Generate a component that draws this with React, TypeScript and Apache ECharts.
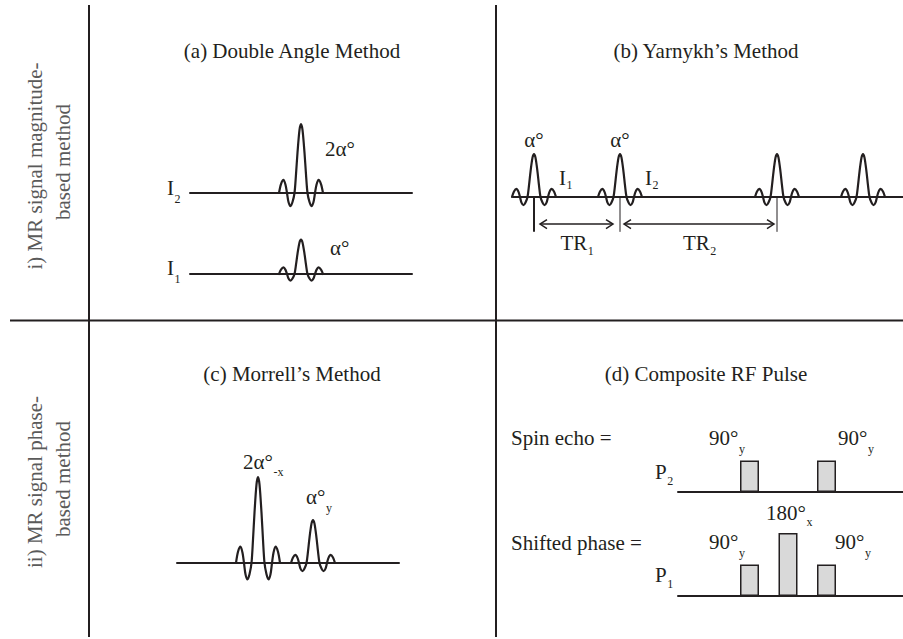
import React, { useEffect, useRef } from "react";
import * as echarts from "echarts";

// ---------- data ----------
const panelTitles = [
  "(a) Double Angle Method",
  "(b) Yarnykh\u2019s Method",
  "(c) Morrell\u2019s Method",
  "(d) Composite RF Pulse",
];
const rowTitlesTop = ["i) MR signal magnitude-", "based method"];
const rowTitlesBottom = ["ii) MR signal phase-", "based method"];

// sinc-like RF pulse outline: [time offset, fraction of peak amplitude]
const pulseShape: [number, number][] = [
  [-22, 0], [-20, 0.13], [-17.5, 0.19], [-15.5, 0.12], [-14, 0],
  [-12.5, -0.13], [-10.5, -0.19], [-8.5, -0.13], [-6.5, 0],
  [-5, 0.27], [-3.5, 0.585], [-1.5, 0.915], [0, 1],
  [1.5, 0.915], [3.5, 0.585], [5, 0.27], [6.5, 0],
  [8.5, -0.13], [10.5, -0.19], [12.5, -0.13], [14, 0],
  [15.5, 0.12], [17.5, 0.19], [20, 0.13], [22, 0],
];

// (a) Double angle: I2 acquired with 2α, I1 with α (amplitude in units of α)
const doubleAngleAmps = [2, 1];
// (b) Yarnykh: pulse times (TR1 = 86, TR2 = 157)
const TR1 = 86;
const TR2 = 157;
const yarnykhTimes = [0, TR1, TR1 + TR2, TR1 + TR2 + TR1];
const yarnykhAmps = [1, 1, 1, 1];
// (c) Morrell: 2α(-x) followed by α(y)
const morrellTimes = [0, 55];
const morrellAmps = [2, 1];
// (d) Composite RF pulse: flip angles (deg) at pulse slots
const spinEchoSlots = [0, 2];
const spinEchoAngles = [90, 90];
const shiftedSlots = [0, 1, 2];
const shiftedAngles = [90, 180, 90];

// ---------- styling ----------
const INK = "#231f20";
const GREY = "#5a5a5a";
const FONT = "'Liberation Serif', 'Times New Roman', serif";

type GridSpec = {
  left: number; width: number; base: number; ox: number;
  kx: number; ky: number; yMin: number; yMax: number;
};
const grids: GridSpec[] = [
  { left: 190, width: 222, base: 193, ox: 301, kx: 1, ky: 34.5, yMin: -0.6, yMax: 2.2 },
  { left: 190, width: 222, base: 274, ox: 301, kx: 1, ky: 34.5, yMin: -0.6, yMax: 1.2 },
  { left: 513, width: 390, base: 197, ox: 534, kx: 1, ky: 43, yMin: -0.9, yMax: 1.15 },
  { left: 177, width: 222, base: 563, ox: 258, kx: 1, ky: 43, yMin: -0.5, yMax: 2.15 },
  { left: 678, width: 225, base: 492, ox: 749.5, kx: 38.5, ky: 0.35, yMin: 0, yMax: 190 },
  { left: 678, width: 225, base: 596, ox: 749.5, kx: 38.5, ky: 0.35, yMin: 0, yMax: 190 },
];

let measureCtx: CanvasRenderingContext2D | null = null;
function textWidth(s: string, size: number) {
  if (!measureCtx) measureCtx = document.createElement("canvas").getContext("2d");
  if (!measureCtx) return s.length * size * 0.5;
  measureCtx.font = `${size}px ${FONT}`;
  return measureCtx.measureText(s).width;
}

function txt(x: number, y: number, text: string, o: any = {}) {
  const align = o.align ?? "left";
  return {
    type: "text",
    x,
    y,
    rotation: o.rot ?? 0,
    silent: true,
    z: 10,
    style: {
      text,
      fontFamily: FONT,
      fontSize: o.size ?? 21,
      fill: o.color ?? INK,
      align,
      textAlign: align,
      verticalAlign: "middle",
      textVerticalAlign: "middle",
    },
  };
}

// main text followed by a subscript placed just after it
function withSub(x: number, y: number, main: string, sub: string, subDy: number) {
  const w = textWidth(main, 21);
  return [txt(x, y, main), txt(x + w + 0.5, y + subDy, sub, { size: 12 })];
}

function line(x1: number, y1: number, x2: number, y2: number, w = 2) {
  return {
    type: "line",
    silent: true,
    z: 5,
    shape: { x1, y1, x2, y2 },
    style: { stroke: INK, lineWidth: w, fill: null },
  };
}

function chevron(x: number, y: number, dir: number) {
  return {
    type: "polyline",
    silent: true,
    z: 5,
    shape: { points: [[x + dir * 7, y - 4.5], [x, y], [x + dir * 7, y + 4.5]] },
    style: { stroke: INK, lineWidth: 1.5, fill: null },
  };
}

function pulseSeries(gi: number, t0: number, amp: number) {
  return {
    type: "line",
    xAxisIndex: gi,
    yAxisIndex: gi,
    data: pulseShape.map(([dt, f]) => [t0 + dt, amp * f]),
    smooth: 0.3,
    symbol: "none",
    showSymbol: false,
    silent: true,
    z: 3,
    lineStyle: { color: INK, width: 2.2, cap: "round", join: "round" },
  };
}

function barSeries(gi: number, slots: number[], angles: number[]) {
  return {
    type: "bar",
    xAxisIndex: gi,
    yAxisIndex: gi,
    barWidth: 19,
    silent: true,
    z: 3,
    data: slots.map((s, i) => [s, angles[i]]),
    itemStyle: { color: "#d9d9d9", borderColor: INK, borderWidth: 1.5 },
  };
}

export default function App() {
  const ref = useRef<HTMLDivElement>(null);

  useEffect(() => {
    const el = ref.current!;
    const chart = echarts.init(el, null, { renderer: "svg", width: 903, height: 639 });

    const option: any = {
      animation: false,
      backgroundColor: "#ffffff",
      grid: grids.map((g) => ({
        left: g.left,
        top: g.base - g.yMax * g.ky,
        width: g.width,
        height: (g.yMax - g.yMin) * g.ky,
        containLabel: false,
        outerBoundsMode: "none",
      })),
      xAxis: grids.map((g, i) => ({
        type: "value",
        gridIndex: i,
        min: (g.left - g.ox) / g.kx,
        max: (g.left + g.width - g.ox) / g.kx,
        axisLine: { show: true, onZero: true, lineStyle: { color: INK, width: 2 } },
        axisTick: { show: false },
        axisLabel: { show: false },
        splitLine: { show: false },
      })),
      yAxis: grids.map((g, i) => ({
        type: "value",
        gridIndex: i,
        min: g.yMin,
        max: g.yMax,
        show: false,
        splitLine: { show: false },
      })),
      series: [
        pulseSeries(0, 0, doubleAngleAmps[0]),
        pulseSeries(1, 0, doubleAngleAmps[1]),
        ...yarnykhTimes.map((t, i) => pulseSeries(2, t, yarnykhAmps[i])),
        ...morrellTimes.map((t, i) => pulseSeries(3, t, morrellAmps[i])),
        barSeries(4, spinEchoSlots, spinEchoAngles),
        barSeries(5, shiftedSlots, shiftedAngles),
      ],
    };
    chart.setOption(option);

    const px = (gi: number, v: number[]) =>
      chart.convertToPixel({ gridIndex: gi } as any, v) as unknown as number[];

    const g: any[] = [];
    // frame dividers
    g.push(line(89, 5, 89, 637));
    g.push(line(496, 5, 496, 637));
    g.push(line(10, 320.5, 903, 320.5));

    // row titles (rotated)
    g.push(txt(35, 166, rowTitlesTop[0], { rot: Math.PI / 2, align: "center", color: GREY }));
    g.push(txt(63, 162, rowTitlesTop[1], { rot: Math.PI / 2, align: "center", color: GREY }));
    g.push(txt(35, 482, rowTitlesBottom[0], { rot: Math.PI / 2, align: "center", color: GREY }));
    g.push(txt(63, 479, rowTitlesBottom[1], { rot: Math.PI / 2, align: "center", color: GREY }));

    // panel titles
    g.push(txt(292, 51, panelTitles[0], { align: "center" }));
    g.push(txt(706, 51, panelTitles[1], { align: "center" }));
    g.push(txt(292, 374, panelTitles[2], { align: "center" }));
    g.push(txt(706, 374, panelTitles[3], { align: "center" }));

    // (a) labels
    g.push(...withSub(167, 188, "I", "2", 11));
    g.push(...withSub(167, 268, "I", "1", 11));
    g.push(txt(325, 149, "2\u03b1\u00b0"));
    g.push(txt(330, 248, "\u03b1\u00b0"));

    // (b) markers, arrows and labels
    const markerTimes = [yarnykhTimes[0], yarnykhTimes[1], yarnykhTimes[2]];
    markerTimes.forEach((t, i) => {
      const a = px(2, [t, 0]);
      const b = px(2, [t, -0.81]);
      g.push(line(a[0], a[1], b[0], b[1], i === 0 ? 2 : 1));
    });
    const arrows = [
      [markerTimes[0] + 6, markerTimes[1] - 7],
      [markerTimes[1] + 4, markerTimes[2] - 3],
    ];
    const trSubs = ["1", "2"];
    arrows.forEach(([t1, t2], i) => {
      const a = px(2, [t1, -0.63]);
      const b = px(2, [t2, -0.63]);
      g.push(line(a[0], a[1], b[0], b[1], 1.5));
      g.push(chevron(a[0], a[1], 1));
      g.push(chevron(b[0], b[1], -1));
      const mid = (a[0] + b[0]) / 2;
      g.push(...withSub(mid - 16, 243, "TR", trSubs[i], 8));
    });
    const p0 = px(2, [yarnykhTimes[0], 0]);
    const p1 = px(2, [yarnykhTimes[1], 0]);
    g.push(txt(p0[0], 140, "\u03b1\u00b0", { align: "center" }));
    g.push(txt(p1[0], 140, "\u03b1\u00b0", { align: "center" }));
    g.push(...withSub(559, 178, "I", "1", 7));
    g.push(...withSub(645, 178, "I", "2", 7));

    // (c) labels
    g.push(...withSub(243, 462, "2\u03b1\u00b0", "-x", 10));
    g.push(...withSub(306, 497, "\u03b1\u00b0", "y", 11));

    // (d) labels
    g.push(txt(511, 438, "Spin echo ="));
    g.push(txt(511, 543, "Shifted phase ="));
    g.push(...withSub(655, 472, "P", "2", 9));
    g.push(...withSub(655, 575, "P", "1", 8.5));
    g.push(...withSub(709, 438, "90\u00b0", "y", 11));
    g.push(...withSub(838, 438, "90\u00b0", "y", 11));
    g.push(...withSub(709, 542, "90\u00b0", "y", 11));
    g.push(...withSub(766, 512.5, "180\u00b0", "x", 9));
    g.push(...withSub(835, 542, "90\u00b0", "y", 11));

    chart.setOption({ graphic: { elements: g } });

    return () => chart.dispose();
  }, []);

  return (
    <div
      ref={ref}
      style={{ position: "absolute", left: 0, top: 0, width: 903, height: 639, background: "#ffffff" }}
    />
  );
}
